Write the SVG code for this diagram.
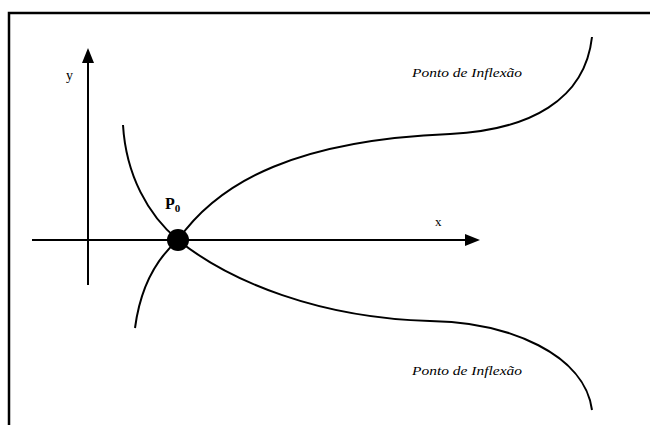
<svg xmlns="http://www.w3.org/2000/svg" width="650" height="425" viewBox="0 0 650 425">
<style>
.ax{stroke:#000;stroke-width:2;fill:none}
.cv{stroke:#000;stroke-width:2;fill:none}
text{font-family:'Liberation Serif','Times New Roman','DejaVu Serif',serif;fill:#000}
.inf{font-style:italic;font-size:13px}
</style>
<rect x="0" y="0" width="650" height="425" fill="#fff"/>
<rect x="9" y="13" width="700" height="500" fill="none" stroke="#000" stroke-width="2.5"/>
<g id="connectors">
<g id="x-axis">
<line class="ax" x1="32" y1="240" x2="466" y2="240"/>
<polygon points="480,240 465,234 465,246" fill="#000"/>
</g>
<g id="y-axis">
<line class="ax" x1="88" y1="285" x2="88" y2="62"/>
<polygon points="88,48 82,63 94,63" fill="#000"/>
</g>
<path id="curve1" class="cv" d="M123,125 C126,175 148,215 178,240 C230,282 320,318 430,321 C510,322 585,355 592,410"/>
<path id="curve2" class="cv" d="M135,328 C140,290 155,260 178,240 C220,180 300,140 450,134 C530,130 585,100 592,37"/>
</g>
<g id="P0">
<circle cx="178" cy="240" r="11" fill="#000"/>
<text x="165" y="209" font-size="16" font-weight="bold">P<tspan font-size="11" dy="3">0</tspan></text>
</g>
<g id="label-x"><text x="435" y="226" font-size="13">x</text></g>
<g id="label-y"><text x="66" y="80" font-size="14">y</text></g>
<g id="inflexao-top"><text class="inf" x="412" y="77" textLength="110" lengthAdjust="spacingAndGlyphs">Ponto de Inflexão</text></g>
<g id="inflexao-bottom"><text class="inf" x="412" y="375" textLength="110" lengthAdjust="spacingAndGlyphs">Ponto de Inflexão</text></g>
</svg>
